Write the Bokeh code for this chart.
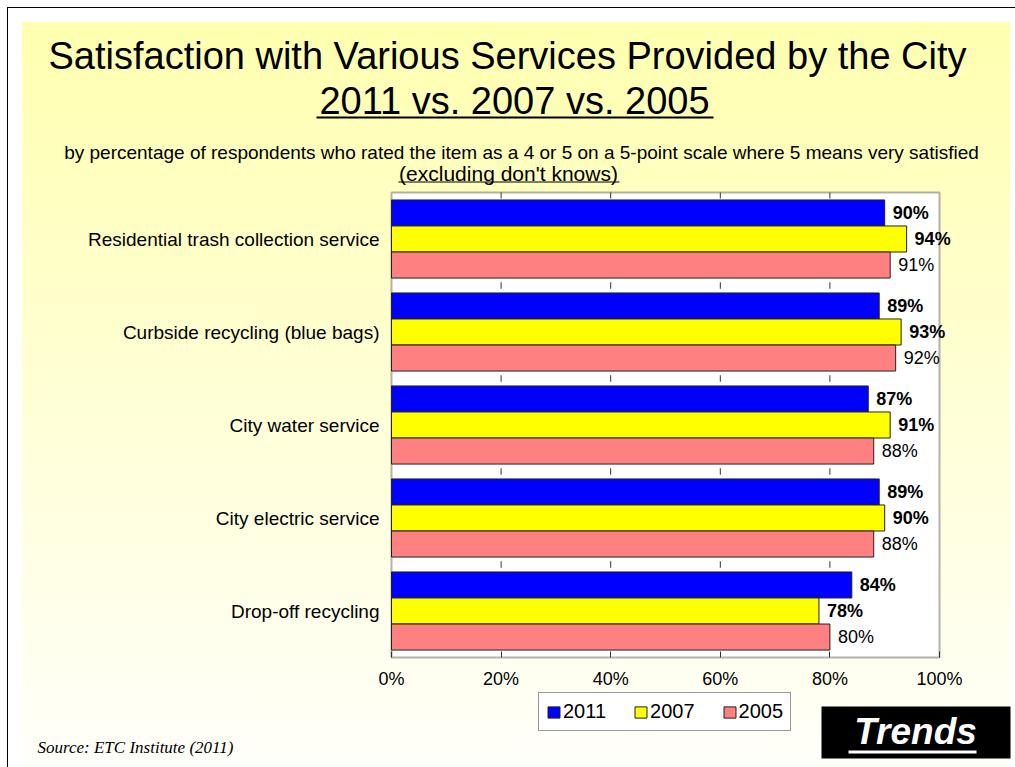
from bokeh.plotting import figure
from bokeh.models import (Range1d, LinearAxis, FixedTicker, Label, LabelSet, BoxAnnotation,
                          Legend, LegendItem, ColumnDataSource)
from bokeh.embed import file_html
from bokeh.resources import INLINE
from bokeh.core.properties import value

# ---------------- data ----------------
categories = ["Residential trash collection service",
              "Curbside recycling (blue bags)",
              "City water service",
              "City electric service",
              "Drop-off recycling"]
years = ["2011", "2007", "2005"]
v2011 = [90, 89, 87, 89, 84]
v2007 = [94, 93, 91, 90, 78]
v2005 = [91, 92, 88, 88, 80]
x_ticks = [0, 20, 40, 60, 80, 100]
x_tick_labels = ["0%", "20%", "40%", "60%", "80%", "100%"]

title1 = "Satisfaction with Various Services Provided by the City"
title2 = "2011 vs. 2007 vs. 2005"
subtitle1 = "by percentage of respondents who rated the item as a 4 or 5 on a 5-point scale where 5 means very satisfied"
subtitle2 = "(excluding don't knows)"
source_text = "Source:  ETC Institute (2011)"
badge_text = "Trends"

# ---------------- styles / layout ----------------
colors = ["#0000FF", "#FFFF00", "#FF8080"]
bold = ["bold", "bold", "normal"]
FONT = "Liberation Sans"
W, H = 1015, 767
# plot-area box in page pixels
PL, PR, PT, PB = 391, 939, 192, 657

n = len(categories)
ypos = [n - i for i in range(n)]
bar_h = 0.28
offsets = [bar_h, 0.0, -bar_h]
series = [v2011, v2007, v2005]

xmin, xmax = x_ticks[0], x_ticks[-1]
ylo, yhi = 0.5, n + 0.5
px_x = (PR - PL) / (xmax - xmin)
px_y = (PB - PT) / (yhi - ylo)
x_range = Range1d(xmin - PL / px_x, xmax + (W - PR) / px_x)
y_range = Range1d(ylo - (H - PB) / px_y, yhi + PT / px_y)


def sx(cx):
    return cx


def sy(cy):
    return H - cy


p = figure(width=W, height=H, output_backend="svg", toolbar_location=None,
           x_range=x_range, y_range=y_range,
           min_border_left=0, min_border_right=0, min_border_top=0, min_border_bottom=0,
           x_axis_location=None, y_axis_location=None)
p.title.visible = False
p.stylesheets = [":host { background:"
                 " linear-gradient(#000000, #000000) 7px 7px / 1008px 1px no-repeat,"
                 " linear-gradient(#000000, #000000) 7px 7px / 1px 760px no-repeat,"
                 " linear-gradient(to bottom, #FFFFB0, #FFFFFA) 22px 22px / 988px 745px no-repeat,"
                 " #FFFFFF; }"]
p.border_fill_color = None
p.background_fill_color = None
p.outline_line_color = None
p.xgrid.visible = False
p.ygrid.visible = False

# white plot area with black border
p.add_layout(BoxAnnotation(left=xmin, right=xmax, bottom=ylo, top=yhi,
                           fill_color="white", fill_alpha=1,
                           line_color="black", line_width=2, level="underlay"))

# axes (fixed inside the full-canvas frame)
xaxis = LinearAxis(ticker=FixedTicker(ticks=x_ticks), fixed_location=ylo,
                   major_label_overrides={t: l for t, l in zip(x_ticks, x_tick_labels)})
xaxis.axis_line_color = None
xaxis.major_tick_in = 6
xaxis.major_tick_out = 0
xaxis.major_tick_line_color = "#333333"
xaxis.minor_tick_line_color = None
xaxis.major_label_standoff = 11
xaxis.major_label_text_font = FONT
xaxis.major_label_text_font_size = "18px"
xaxis.major_label_text_color = "black"
p.add_layout(xaxis, "below")

yaxis = LinearAxis(ticker=FixedTicker(ticks=ypos), fixed_location=xmin,
                   major_label_overrides={y: c for y, c in zip(ypos, categories)})
yaxis.axis_line_color = None
yaxis.major_tick_line_color = None
yaxis.major_tick_in = 0
yaxis.major_tick_out = 0
yaxis.minor_tick_line_color = None
yaxis.major_label_standoff = 12
yaxis.major_label_text_font = FONT
yaxis.major_label_text_font_size = "19px"
yaxis.major_label_text_color = "black"
p.add_layout(yaxis, "left")

# small tick marks at category boundaries and top edge
inner_ticks = [t for t in x_ticks if xmin < t < xmax]
bx0, by0, by1 = [], [], []
for b in [k + 0.5 for k in range(1, n)]:
    for t in inner_ticks:
        bx0.append(t); by0.append(b - 0.035); by1.append(b + 0.035)
for t in inner_ticks:
    bx0.append(t); by0.append(yhi - 0.065); by1.append(yhi)
p.segment(x0=bx0, y0=by0, x1=bx0, y1=by1, line_color="#333333", line_width=1)

# bars + value labels
items = []
for vals, col, off, yr, fw in zip(series, colors, offsets, years, bold):
    src = ColumnDataSource(dict(y=[y + off for y in ypos], v=vals,
                                lab=[f"{v}%" for v in vals]))
    r = p.hbar(y="y", right="v", left=0, height=bar_h, source=src,
               fill_color=col, line_color="#222222", line_width=1)
    items.append(LegendItem(label=yr, renderers=[r]))
    ls = LabelSet(x="v", y="y", text="lab", source=src, x_offset=8,
                  text_baseline="middle", text_align="left",
                  text_font=value(FONT), text_font_size="18px",
                  text_font_style=fw, text_color="black")
    p.add_layout(ls)

legend = Legend(items=items, orientation="horizontal", location=(sx(538), sy(731)))
legend.border_line_color = "#333333"
legend.border_line_width = 1
legend.background_fill_color = "white"
legend.background_fill_alpha = 1
legend.label_text_font = FONT
legend.label_text_font_size = "20px"
legend.label_text_color = "black"
legend.glyph_width = 15
legend.glyph_height = 14
legend.label_standoff = 2
legend.spacing = 27
legend.padding = 7
legend.margin = 0
legend.label_height = 19
p.add_layout(legend)


def lab(text, cx, cy, size, style="normal", align="center", font=FONT, color="black"):
    p.add_layout(Label(x=sx(cx), y=sy(cy), x_units="screen", y_units="screen", text=text,
                       text_align=align, text_baseline="middle", text_font=font,
                       text_font_size=size, text_font_style=style, text_color=color))


def box(x0, x1, y0, y1, color="black"):
    p.add_layout(BoxAnnotation(left=sx(x0), right=sx(x1), top=sy(y0), bottom=sy(y1),
                               left_units="screen", right_units="screen",
                               top_units="screen", bottom_units="screen",
                               fill_color=color, fill_alpha=1, line_color=None))


lab(title1, 507, 55, "38px")
lab(title2, 514, 100, "38px")
box(316, 713, 116, 118)
lab(subtitle1, 521, 152, "19px")
lab(subtitle2, 508, 173, "21px")
box(398, 619, 181, 182)
lab(source_text, 37, 747, "17px", style="italic", align="left", font="Liberation Serif")

# badge
box(821, 1010, 706, 758)
lab(badge_text, 915, 731, "37px", style="bold italic", color="white")
box(848, 976, 750, 753, color="white")

open("out.html", "w").write(file_html(p, INLINE))
